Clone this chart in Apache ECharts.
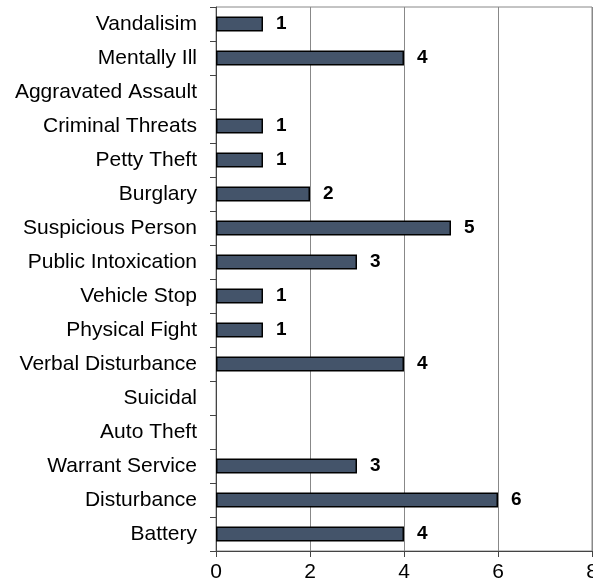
<!DOCTYPE html>
<html><head><meta charset="utf-8">
<script src="https://cdn.jsdelivr.net/npm/echarts@6/dist/echarts.min.js"></script>
<style>html,body{margin:0;padding:0;background:#fff}#c{width:593px;height:588px}</style>
</head><body><div id="c"></div>
<script>
const categories = ["Vandalisim","Mentally Ill","Aggravated Assault","Criminal Threats","Petty Theft","Burglary","Suspicious Person","Public Intoxication","Vehicle Stop","Physical Fight","Verbal Disturbance","Suicidal","Auto Theft","Warrant Service","Disturbance","Battery"];
const values = [1,4,null,1,1,2,5,3,1,1,4,null,null,3,6,4];
const xTicks = [0,2,4,6,8];

const chart = echarts.init(document.getElementById('c'));
chart.setOption({
  animation:false,
  grid:{left:216,top:7,width:376,height:544,show:true,borderColor:'#888',borderWidth:1,containLabel:false,outerBoundsMode:'none'},
  xAxis:{type:'value',min:0,max:8,interval:2,
    axisLine:{show:true,lineStyle:{color:'#444',width:1}},
    axisTick:{show:true,length:6,lineStyle:{color:'#444'}},
    splitLine:{show:true,lineStyle:{color:'#888',width:1}},
    axisLabel:{color:'#000',fontSize:21,fontFamily:'Liberation Sans, Arial',margin:11,hideOverlap:false,showMaxLabel:true,
      formatter:v=>xTicks.includes(v)?String(v):''}},
  yAxis:{type:'category',data:categories.slice().reverse(),
    axisLine:{show:true,lineStyle:{color:'#444',width:1}},
    axisTick:{show:true,length:6,lineStyle:{color:'#444'}},
    axisLabel:{color:'#000',fontSize:21,fontFamily:'Liberation Sans, Arial',margin:19}},
  series:[{type:'bar',data:values.slice().reverse(),barWidth:15,
    itemStyle:{color:'#44546A',borderColor:'#000',borderWidth:1.5},
    label:{show:true,position:'right',distance:13,color:'#000',fontSize:19,fontWeight:'bold',fontFamily:'Liberation Sans, Arial'}}]
});
</script></body></html>
